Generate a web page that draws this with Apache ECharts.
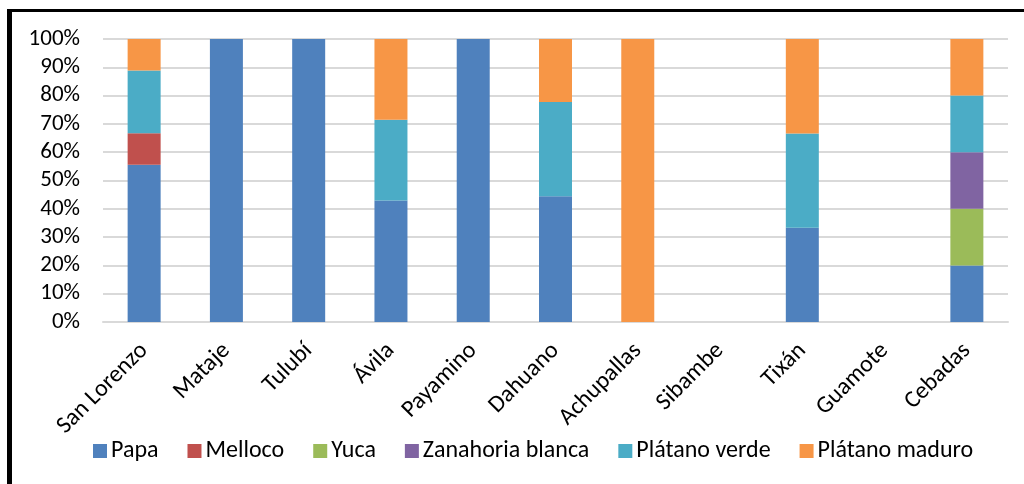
<!DOCTYPE html>
<html>
<head>
<meta charset="utf-8">
<script src="https://cdn.jsdelivr.net/npm/echarts@6/dist/echarts.min.js"></script>
<style>
  html, body { margin: 0; padding: 0; background: #fff; overflow: hidden; }
  #chart { position: absolute; left: 0; top: 0; width: 1024px; height: 484px; }
  .frame {
    position: absolute; left: 7px; top: 9px; width: 2000px; height: 2000px;
    border-left: 5px solid #000; border-top: 3px solid #000;
    pointer-events: none;
  }
</style>
</head>
<body>
<div id="chart"></div>
<div class="frame"></div>
<script>
const categories = ['San Lorenzo', 'Mataje', 'Tulubí', 'Ávila', 'Payamino', 'Dahuano',
  'Achupallas', 'Sibambe', 'Tixán', 'Guamote', 'Cebadas'];

// porcentajes por parroquia
const papa          = [55.6, 100, 100, 42.9, 100, 44.4, 0, 0, 33.3, 0, 20];
const melloco       = [11.1, 0, 0, 0, 0, 0, 0, 0, 0, 0, 0];
const yuca          = [0, 0, 0, 0, 0, 0, 0, 0, 0, 0, 20];
const zanahoria     = [0, 0, 0, 0, 0, 0, 0, 0, 0, 0, 20];
const platanoVerde  = [22.2, 0, 0, 28.6, 0, 33.3, 0, 0, 33.3, 0, 20];
const platanoMaduro = [11.1, 0, 0, 28.5, 0, 22.3, 100, 0, 33.4, 0, 20];

const seriesNames = ['Papa', 'Melloco', 'Yuca', 'Zanahoria blanca', 'Plátano verde', 'Plátano maduro'];
const seriesData = [papa, melloco, yuca, zanahoria, platanoVerde, platanoMaduro];
const colors = ['#4F81BD', '#C0504D', '#9BBB59', '#8064A2', '#4BACC6', '#F79646'];

const font = "Carlito, Calibri, Lato, 'Noto Sans', sans-serif";

const chart = echarts.init(document.getElementById('chart'));
chart.setOption({
  animation: false,
  color: colors,
  textStyle: { fontFamily: font },
  grid: { left: 103, right: 16, top: 39, bottom: 162 },
  legend: {
    bottom: 16,
    left: 88,
    itemWidth: 14,
    itemHeight: 14,
    itemGap: 29,
    icon: 'rect',
    textStyle: { fontSize: 24, color: '#000', fontFamily: font, padding: [0, 0, 0, -1] },
    data: seriesNames,
  },
  xAxis: {
    type: 'category',
    data: categories,
    axisTick: { show: false },
    axisLine: { lineStyle: { color: '#d9d9d9', width: 2 } },
    axisLabel: { rotate: 45, margin: 25, fontSize: 24, color: '#000', interval: 0, fontFamily: font },
  },
  yAxis: {
    type: 'value',
    min: 0,
    max: 100,
    interval: 10,
    axisLine: { show: false },
    axisTick: { show: false },
    axisLabel: { formatter: '{value}%', fontSize: 23, color: '#000', margin: 23, fontFamily: font },
    splitLine: { lineStyle: { color: '#d9d9d9', width: 2 } },
  },
  series: seriesNames.map((name, i) => ({
    name,
    type: 'bar',
    stack: 'total',
    barWidth: 33,
    data: seriesData[i],
  })),
});
</script>
</body>
</html>
